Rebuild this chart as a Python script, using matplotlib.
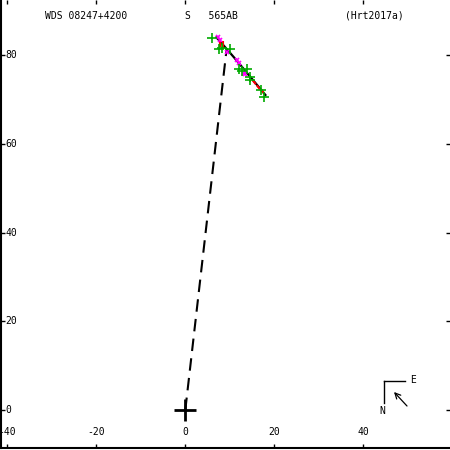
import matplotlib
matplotlib.use("Agg")
import matplotlib.pyplot as plt
import matplotlib.transforms as mtransforms

# ---- data ----
title_left = "WDS 08247+4200"
title_mid = "S   565AB"
title_right = "(Hrt2017a)"

x_ticks = [-40, -20, 0, 20, 40]
y_ticks = [0, 20, 40, 60, 80]

orbit_x = [7.0, 9.0, 11.0, 13.0, 15.0, 17.0, 18.0]
orbit_y = [84.0, 81.7, 79.4, 77.0, 74.6, 72.2, 71.0]

green_x = [6.0, 7.5, 8.3, 10.0, 12.0, 12.7, 13.9, 14.6, 14.6, 16.9, 17.6]
green_y = [83.9, 81.3, 81.6, 81.3, 76.8, 76.4, 76.9, 75.1, 74.3, 72.1, 70.6]

mag_x = [7.4, 7.8, 9.4, 11.6, 12.0, 13.5, 13.2]
mag_y = [84.0, 83.3, 80.7, 78.8, 78.3, 75.8, 76.0]

red_x0 = [7.7, 8.5, 15.7, 16.6, 17.5]
red_y0 = [83.3, 83.0, 73.6, 72.5, 71.6]
red_x1 = [7.7, 8.5, 15.3, 16.2, 17.2]
red_y1 = [82.0, 81.9, 74.1, 73.0, 72.0]

node_x = [0.0, 9.3]
node_y = [0.0, 81.5]

origin_x = [0.0]
origin_y = [0.0]

# ---- figure ----
W = H = 450
fig = plt.figure(figsize=(4.5, 4.5), dpi=100)
ax = fig.add_axes([1 / W, 2 / H, 449 / W, 448 / H])
pxu_x = 4.45
pxu_y = 4.4375
x0p, y0p = 185.3, 410.0
ax.set_xlim((1 - x0p) / pxu_x, (450 - x0p) / pxu_x)
ax.set_ylim((y0p - 448) / pxu_y, y0p / pxu_y)

for s in ["top", "right"]:
    ax.spines[s].set_visible(False)
ax.spines["left"].set_linewidth(1.5)
ax.spines["bottom"].set_linewidth(1.5)

ax.set_xticks(x_ticks)
ax.set_yticks(y_ticks)
ax.tick_params(axis="both", which="both", direction="in", length=3, width=1,
               top=True, right=True, labelbottom=False, labelleft=False)

mono = "DejaVu Sans Mono"
fs = 7
# tick labels drawn inside
tx = mtransforms.blended_transform_factory(ax.transData, ax.transAxes)
for v in x_ticks:
    ax.text(v, 16 / 448, f"{v}", transform=tx, ha="center", va="center",
            fontsize=fs, family=mono)
ty = mtransforms.blended_transform_factory(ax.transAxes, ax.transData)
for v in y_ticks:
    ax.text(4 / 449, v, f"{v}", transform=ty, ha="left", va="center",
            fontsize=fs, family=mono)

# title texts
def ftxt(x, y, s, **kw):
    fig.text(x / W, 1 - y / H, s, fontsize=fs, family=mono, va="center", **kw)

ftxt(45, 16, title_left)
ftxt(185, 16, title_mid)
ftxt(345, 16, title_right)

# node line (dashed)
ax.plot(node_x, node_y, color="black", lw=1.5, dashes=(6, 3.5))

# orbit
ax.plot(orbit_x, orbit_y, color="black", lw=1.6, zorder=3)

# O-C segments
for a, b, c, d in zip(red_x0, red_y0, red_x1, red_y1):
    ax.plot([a, c], [b, d], color="red", lw=1.5, zorder=4)

ax.plot(green_x, green_y, "+", color="#00aa00", ms=7.5, mew=1.2, zorder=5)
ax.plot(mag_x, mag_y, "x", color="#ff00ff", ms=3.5, mew=1.2, zorder=4)

# origin
ax.plot(origin_x, origin_y, "+", color="black", ms=16, mew=2, zorder=6)

# compass
def fline(xs, ys, **kw):
    fig.add_artist(plt.Line2D([x / W for x in xs], [1 - y / H for y in ys],
                              transform=fig.transFigure, **kw))

fline([384, 384], [403, 381], color="black", lw=1)
fline([384, 405], [381, 381], color="black", lw=1)
ftxt(410, 380, "E")
ftxt(379, 411, "N")
ax.annotate("", xy=(394 / W, 1 - 392 / H), xytext=(407 / W, 1 - 406 / H),
            xycoords="figure fraction", textcoords="figure fraction",
            arrowprops=dict(arrowstyle="->", color="black", lw=0.9,
                            shrinkA=0, shrinkB=0))

fig.savefig("out.png", dpi=100)
